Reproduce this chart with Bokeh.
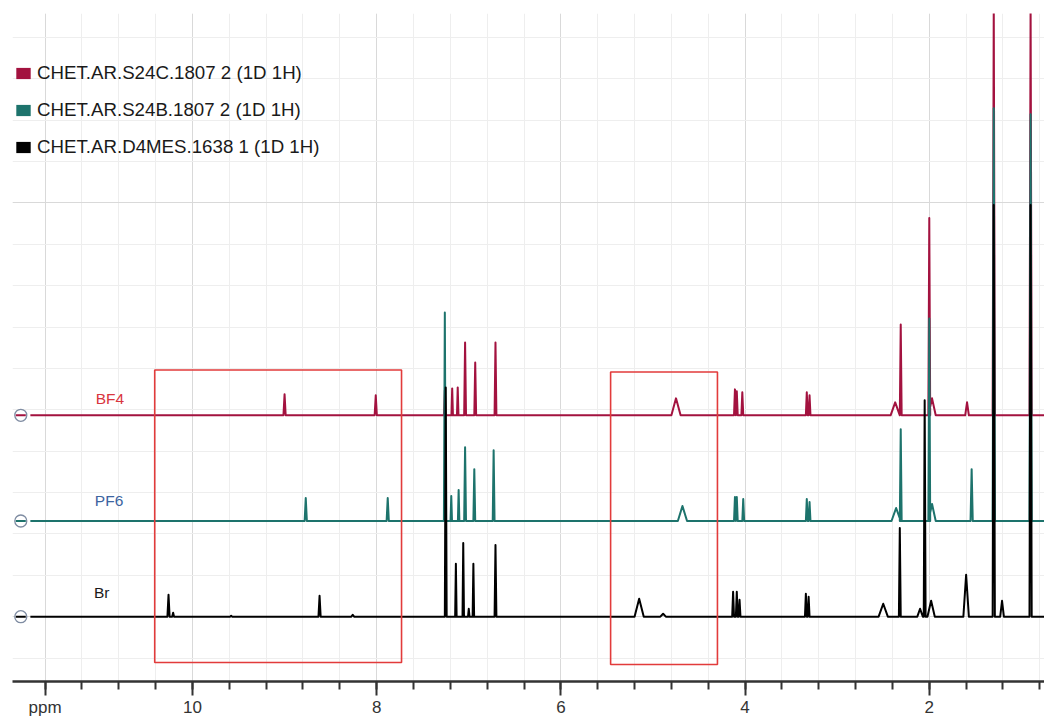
from bokeh.plotting import figure
from bokeh.models import (Range1d, FixedTicker, BoxAnnotation, Label, Legend,
                          LegendItem)
from bokeh.embed import file_html
from bokeh.resources import INLINE

# ---------------- data ----------------
legend_names = ["CHET.AR.S24C.1807 2 (1D 1H)",
                "CHET.AR.S24B.1807 2 (1D 1H)",
                "CHET.AR.D4MES.1638 1 (1D 1H)"]
trace_tags = ["BF4", "PF6", "Br"]

# BF4 (S24C) peak list: chemical shift (ppm), height (a.u.), half width (ppm)
bf4_ppm = [9.00, 8.01, 7.26, 7.18, 7.12, 7.04, 6.93, 6.71, 4.75, 4.11, 4.09, 4.03,
           3.33, 3.30, 2.37, 2.31, 2.00, 1.97, 1.59, 1.30, 0.90]
bf4_height = [21, 20, 25, 27, 28, 73, 53, 73, 17, 26, 24, 23,
              23, 20, 13, 91, 198, 17, 13, 413, 413]
bf4_width = [0.012, 0.012, 0.010, 0.008, 0.008, 0.010, 0.010, 0.010, 0.05, 0.010, 0.010, 0.010,
             0.010, 0.010, 0.05, 0.010, 0.010, 0.04, 0.02, 0.012, 0.012]

# PF6 (S24B)
pf6_ppm = [8.77, 7.88, 7.26, 7.19, 7.11, 7.04, 6.94, 6.73, 4.68, 4.11, 4.09, 4.02,
           3.33, 3.30, 2.36, 2.31, 2.00, 1.97, 1.54, 1.30, 0.90]
pf6_height = [23, 23, 209, 25, 31, 74, 52, 71, 15, 24, 24, 22,
              22, 19, 13, 92, 203, 17, 52, 414, 408]
pf6_width = [0.012, 0.012, 0.010, 0.008, 0.008, 0.010, 0.010, 0.010, 0.05, 0.010, 0.010, 0.010,
             0.010, 0.010, 0.05, 0.010, 0.010, 0.04, 0.012, 0.012, 0.012]

# Br (D4MES)
br_ppm = [10.26, 10.21, 9.58, 8.62, 8.26, 7.25, 7.14, 7.06, 7.00, 6.95, 6.71, 5.15, 4.89,
          4.13, 4.09, 4.06, 3.34, 3.31, 2.50, 2.32, 2.10, 2.05, 1.98, 1.60, 1.30, 1.21, 0.90]
br_height = [22, 4, 1, 21, 2, 230, 53, 74, 8, 53, 72, 18, 3,
             25, 25, 17, 23, 20, 13, 89, 8, 217, 16, 42, 413, 16, 413]
br_width = [0.012, 0.010, 0.010, 0.012, 0.015, 0.010, 0.008, 0.008, 0.008, 0.008, 0.010, 0.05, 0.03,
            0.010, 0.010, 0.010, 0.010, 0.010, 0.05, 0.010, 0.03, 0.010, 0.04, 0.03, 0.012, 0.02, 0.012]

x_ticks = [11.6, 10, 8, 6, 4, 2]
x_tick_labels = {11.6: "ppm", 10: "10", 8: "8", 6: "6", 4: "4", 2: "2"}
x_minor_ticks = [12.0, 11.6, 11.2, 10.8, 10.4, 10.0, 9.6, 9.2, 8.8, 8.4, 8.0, 7.6, 7.2,
                 6.8, 6.4, 6.0, 5.6, 5.2, 4.8, 4.4, 4.0, 3.6, 3.2, 2.8, 2.4, 2.0, 1.6,
                 1.2, 0.8]

# ---------------- style / layout ----------------
COLORS = ["#a3123f", "#1d736c", "#000000"]
TAG_COLORS = ["#d9363e", "#3c64a0", "#1a1a1a"]
OFFSETS = [202, 96, 0]          # vertical stacking of the three traces
X_START, X_END = 11.954, 0.749
Y_START, Y_END = -65, 605
TRACE_FROM, TRACE_TO = 11.76, 0.5
GRID_STEP = 41.5
NAN = float("nan")

p = figure(width=1044, height=719, output_backend="svg", toolbar_location=None,
           x_range=Range1d(X_START, X_END), y_range=Range1d(Y_START, Y_END),
           min_border_left=12, min_border_right=0, min_border_top=13, min_border_bottom=0)
p.outline_line_color = None
p.background_fill_color = "white"

# axes
p.yaxis.visible = False
ax = p.xaxis[0]
ax.ticker = FixedTicker(ticks=x_ticks, minor_ticks=x_minor_ticks)
ax.major_label_overrides = x_tick_labels
ax.axis_line_width = 2.5
ax.axis_line_color = "#333333"
ax.major_tick_line_color = "#333333"
ax.minor_tick_line_color = "#333333"
ax.major_tick_line_width = 2
ax.minor_tick_line_width = 2
ax.major_tick_in = 0
ax.minor_tick_in = 0
ax.major_tick_out = 14
ax.minor_tick_out = 8
ax.major_label_standoff = 2
ax.major_label_text_font = "Liberation Sans"
ax.major_label_text_font_size = "17px"
ax.major_label_text_color = "#333333"

# grids
p.xgrid.grid_line_color = "#d9d9d9"
p.xgrid.minor_grid_line_color = "#eeeeee"
p.ygrid.ticker = FixedTicker(ticks=[0, 10 * GRID_STEP],
                             minor_ticks=[GRID_STEP * k for k in range(-1, 15)])
p.ygrid.grid_line_color = "#d9d9d9"
p.ygrid.minor_grid_line_color = "#eeeeee"


def build_trace(ppm, height, width, offset):
    order = sorted(range(len(ppm)), key=lambda i: -ppm[i])
    xs = [TRACE_FROM]
    ys = [offset]
    for i in order:
        xs += [ppm[i] + width[i], ppm[i], ppm[i] - width[i]]
        ys += [offset, offset + height[i], offset]
    xs.append(TRACE_TO)
    ys.append(offset)
    return xs, ys


peak_sets = [(bf4_ppm, bf4_height, bf4_width),
             (pf6_ppm, pf6_height, pf6_width),
             (br_ppm, br_height, br_width)]

for (ppm, h, w), col, off in zip(peak_sets, COLORS, OFFSETS):
    xs, ys = build_trace(ppm, h, w, off)
    p.line(x=xs, y=ys, line_color=col, line_width=2, line_join="round")

# small handles at the left of each trace
handle_x = X_START - 0.09
p.scatter(x=[handle_x] * 3, y=OFFSETS, marker="circle", size=12,
          line_color="#7f8ca2", fill_color="white", line_width=1.3)
p.scatter(x=[handle_x] * 3, y=OFFSETS, marker="dash", size=10,
          line_color=COLORS, line_width=2)

# trace tags
tag_x = [11.05, 11.06, 11.07]
tag_dy = [17, 20.5, 24]
for t, c, off, tx, dy in zip(trace_tags, TAG_COLORS, OFFSETS, tag_x, tag_dy):
    p.add_layout(Label(x=tx, y=off + dy, text=t, text_color=c,
                       text_font="Liberation Sans", text_font_size="15.5px",
                       text_baseline="middle", text_align="left"))

# highlighted regions
for left, right, bottom, top in [(7.73, 10.41, -46, 247.5), (4.30, 5.46, -48, 245.5)]:
    p.add_layout(BoxAnnotation(left=left, right=right, bottom=bottom, top=top,
                               fill_color=None, fill_alpha=0, line_color="#e23b3b",
                               line_alpha=1.0, line_width=1.6))

# legend with square swatches (swatch renderers carry no visible mark)
swatches = []
for col in COLORS:
    r = p.quad(left=[NAN], right=[NAN], top=[NAN], bottom=[NAN],
               fill_color=col, line_color=None)
    swatches.append(r)
legend = Legend(items=[LegendItem(label=n, renderers=[r]) for n, r in zip(legend_names, swatches)],
                location=(2, 523), orientation="vertical",
                border_line_color=None, background_fill_alpha=0,
                padding=0, margin=0, spacing=15,
                glyph_width=18, glyph_height=14, label_standoff=5, label_height=21,
                label_text_font="Liberation Sans", label_text_font_size="18.7px",
                label_text_color="#1a1a1a")
p.add_layout(legend)

open("out.html", "w").write(file_html(p, INLINE))
